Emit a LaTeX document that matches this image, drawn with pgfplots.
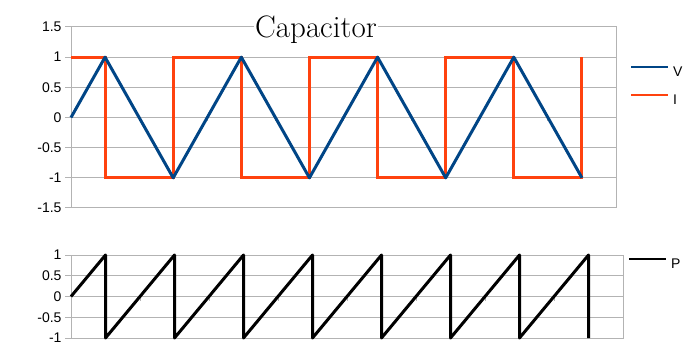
\documentclass[border=0pt]{standalone}
\usepackage{pgfplots}
\pgfplotsset{compat=1.18}
\usepackage{fontspec}
\newfontfamily\sans{Liberation Sans}
\definecolor{vblue}{HTML}{004586}
\definecolor{ired}{HTML}{FF420E}
\definecolor{gridc}{HTML}{B3B3B3}
\pgfplotsset{
  common/.style={
    scale only axis, anchor=south west, clip=false,
    xmin=0, xmax=16, xtick=\empty,
    ymajorgrids, grid style={gridc, line width=1bp},
    axis line style={gridc, line width=1bp},
    tick style={gridc, line width=1bp}, major tick length=6bp,
    ytick pos=left, tick align=outside,
    yticklabel style={font=\sans\fontsize{14bp}{16bp}\selectfont, text=black},
    /pgf/number format/assume math mode=true,
    legend style={draw=none, fill=none, inner sep=0pt, anchor=west,
      font=\sans\fontsize{14bp}{16bp}\selectfont, row sep=16bp,
      nodes={inner sep=0pt}, column sep=4bp},
    legend cell align=left,
    legend image code/.code={\draw[##1, line width=2bp] (0bp,5bp) -- (37bp,5bp);},
  }
}
\begin{document}
\begin{tikzpicture}
\useasboundingbox (0,0) rectangle (700bp,362bp);
\begin{axis}[common,
  at={(71bp,154bp)}, width=545bp, height=181bp,
  ymin=-1.5, ymax=1.5, ytick={-1.5,-1,-0.5,0,0.5,1,1.5},
  legend style={at={(1.0257,0.674)}}]
\pgfplotsinvokeforeach{2,4,6,8,10,12,14}{\draw[gridc, line width=1bp] (axis cs:#1,0) -- ([yshift=-4bp]axis cs:#1,0);}
\addplot[ired, line width=3bp, forget plot] coordinates {
(0,1) (1,1) (1,-1) (3,-1) (3,1) (5,1) (5,-1) (7,-1) (7,1) (9,1) (9,-1) (11,-1) (11,1) (13,1) (13,-1) (15,-1) (15,1)};
\addplot[vblue, line width=3bp, line join=round] coordinates {
(0,0) (1,1) (3,-1) (5,1) (7,-1) (9,1) (11,-1) (13,1) (15,-1)};
\addlegendentry{V}
\addlegendimage{ired, line width=3bp}
\addlegendentry{I}
\end{axis}
\node[fill=white, inner xsep=1bp, inner ysep=0pt, anchor=base, font=\fontsize{31bp}{33bp}\selectfont] at (316bp,324bp) {Capacitor};
\begin{axis}[common,
  at={(71bp,24bp)}, width=552bp, height=83bp,
  ymin=-1, ymax=1, ytick={-1,-0.5,0,0.5,1},
  legend style={at={(1.009,0.892)}}]
\pgfplotsinvokeforeach{2,4,6,8,10,12,14}{\draw[gridc, line width=1bp] (axis cs:#1,0) -- ([yshift=-4bp]axis cs:#1,0);}
\addplot[black, line width=3bp, line join=round] coordinates {
(0,0) (1,1) (1,-1) (3,1) (3,-1) (5,1) (5,-1) (7,1) (7,-1) (9,1) (9,-1) (11,1) (11,-1) (13,1) (13,-1) (15,1) (15,-1)};
\addlegendentry{P}
\end{axis}
\end{tikzpicture}
\end{document}
